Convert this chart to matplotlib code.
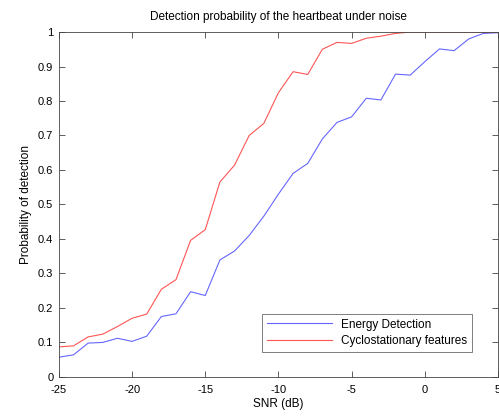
import matplotlib
matplotlib.use("Agg")
import matplotlib.pyplot as plt

snr = list(range(-25, 6))
energy = [0.057, 0.064, 0.098, 0.100, 0.112, 0.103, 0.118, 0.175, 0.183, 0.247,
          0.236, 0.339, 0.365, 0.410, 0.466, 0.530, 0.590, 0.619, 0.690, 0.738,
          0.754, 0.808, 0.803, 0.878, 0.875, 0.914, 0.951, 0.946, 0.980, 0.996, 0.998]
cyclo = [0.087, 0.090, 0.116, 0.124, 0.146, 0.170, 0.182, 0.254, 0.282, 0.396,
         0.427, 0.565, 0.614, 0.700, 0.735, 0.824, 0.885, 0.877, 0.950, 0.970,
         0.967, 0.982, 0.988, 0.996, 1.0, 1.0, 1.0, 1.0, 1.0, 1.0, 1.0]
xticks = [-25, -20, -15, -10, -5, 0, 5]
yticks = [0, 0.1, 0.2, 0.3, 0.4, 0.5, 0.6, 0.7, 0.8, 0.9, 1]
ylabels = ["0", "0.1", "0.2", "0.3", "0.4", "0.5", "0.6", "0.7", "0.8", "0.9", "1"]

plt.rcParams['font.family'] = ['Liberation Sans', 'DejaVu Sans']
plt.rcParams['axes.unicode_minus'] = False

fig = plt.figure(figsize=(4.99, 4.16), dpi=100)
ax = fig.add_axes([0.118, 0.094, 0.880, 0.829])

ax.plot(snr, energy, color="#6666ff", lw=0.8, label="Energy Detection")
ax.plot(snr, cyclo, color="#ff5555", lw=0.8, label="Cyclostationary features")

ax.set_xlim(-25, 5)
ax.set_ylim(0, 1)
ax.set_xticks(xticks)
ax.set_yticks(yticks)
ax.set_yticklabels(ylabels)
ax.tick_params(direction="in", top=True, right=True, labelsize=8, length=4,
               width=0.6, color="#444444")
ax.tick_params(axis="x", pad=6)
ax.tick_params(axis="y", pad=4)
for s in ax.spines.values():
    s.set_linewidth(0.6)
    s.set_color("#444444")

ax.set_title("Detection probability of the heartbeat under noise", fontsize=8.5, pad=9)
ax.set_xlabel("SNR (dB)", fontsize=8.5, labelpad=2)
ax.set_ylabel("Probability of detection", fontsize=8.5, labelpad=4)

leg = ax.legend(loc="lower right", bbox_to_anchor=(0.955, 0.055), fontsize=8.5,
                fancybox=False, edgecolor="#444444", handlelength=5.5,
                borderpad=0.4, labelspacing=0.4)
leg.get_frame().set_linewidth(0.6)

plt.savefig("out.png", dpi=100)
plt.close()
